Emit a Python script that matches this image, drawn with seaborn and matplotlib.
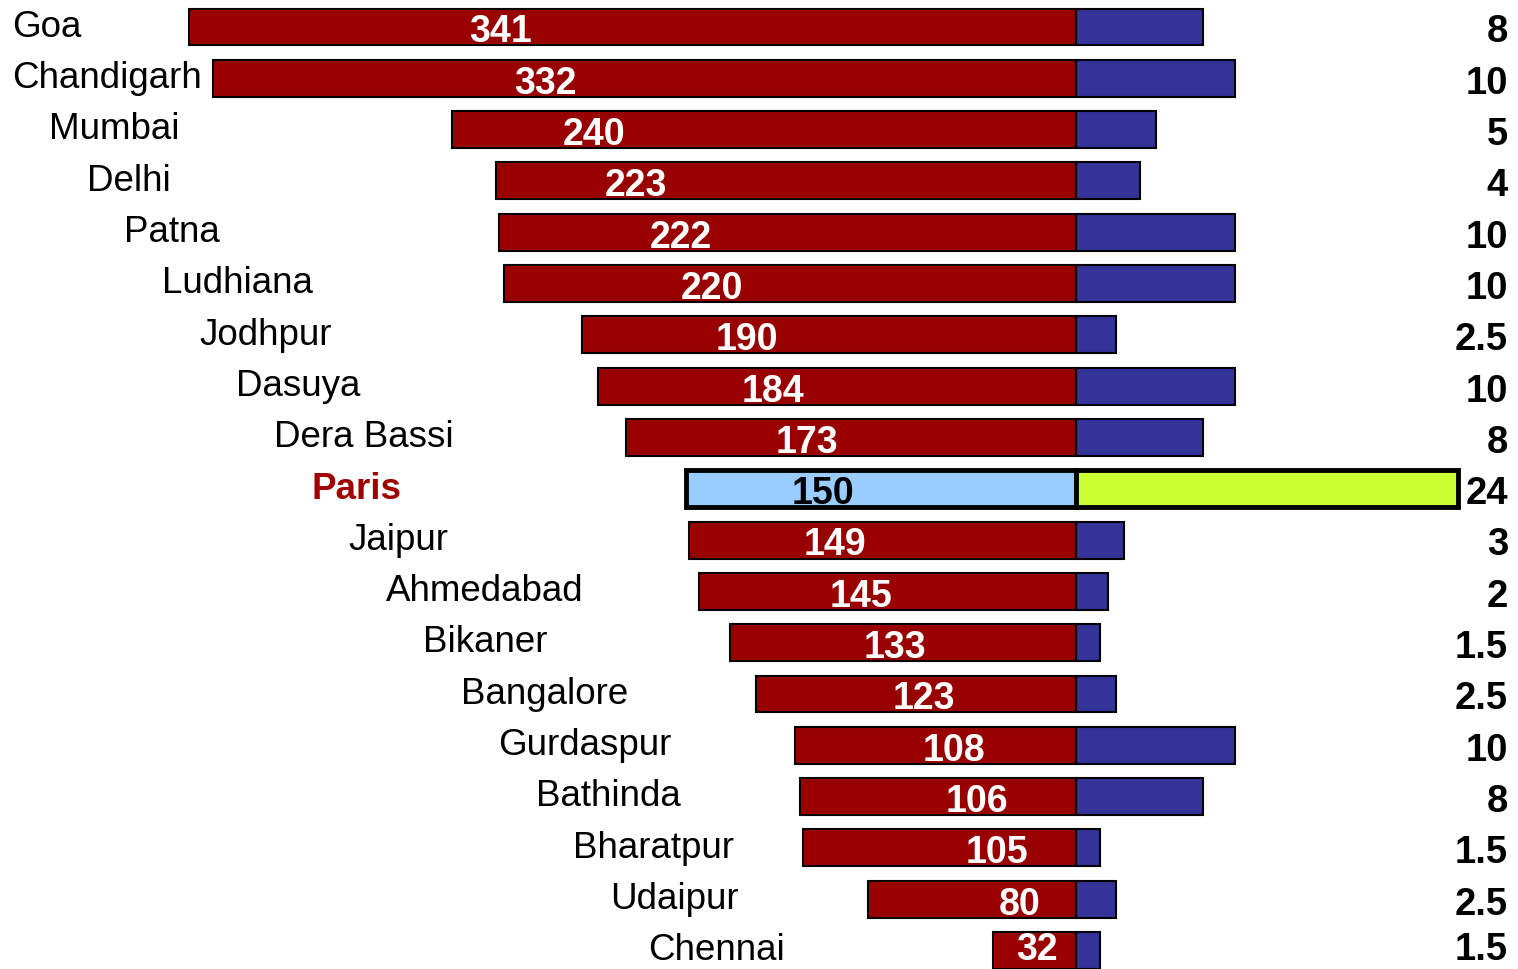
import matplotlib
matplotlib.use('Agg')
import matplotlib.pyplot as plt
import matplotlib.transforms as mtransforms
import seaborn as sns
import pandas as pd

# ---- data ----
cities = ['Goa', 'Chandigarh', 'Mumbai', 'Delhi', 'Patna', 'Ludhiana', 'Jodhpur',
          'Dasuya', 'Dera Bassi', 'Paris', 'Jaipur', 'Ahmedabad', 'Bikaner',
          'Bangalore', 'Gurdaspur', 'Bathinda', 'Bharatpur', 'Udaipur', 'Chennai']
consumption = [341, 332, 240, 223, 222, 220, 190, 184, 173, 150, 149, 145, 133,
               123, 108, 106, 105, 80, 32]
supply = [8, 10, 5, 4, 10, 10, 2.5, 10, 8, 24, 3, 2, 1.5, 2.5, 10, 8, 1.5, 2.5, 1.5]
supply_labels = ['8', '10', '5', '4', '10', '10', '2.5', '10', '8', '24', '3', '2',
                 '1.5', '2.5', '10', '8', '1.5', '2.5', '1.5']
highlight = 'Paris'

# placement of the value labels inside the red bars (consumption units from the centre line)
value_label_pos = [221.5, 204.2, 185.4, 169.2, 151.9, 140.0, 126.5, 116.5, 103.5,
                   97.3, 92.7, 82.7, 69.6, 58.5, 46.9, 38.1, 30.4, 21.5, 15.0]

sns.set_style('white')
plt.rcParams['font.family'] = ['Liberation Sans', 'DejaVu Sans']

W, H = 1518, 969
fig = plt.figure(figsize=(W / 100, H / 100), dpi=100)
split = 1076 / W
axL = fig.add_axes([0, 0, split, 1])
axR = fig.add_axes([split, 0, 1 - split, 1])

df = pd.DataFrame({'city': cities, 'consumption': consumption, 'supply': supply})
left_colors = {c: ('#99CCFF' if c == highlight else '#990000') for c in cities}
right_colors = {c: ('#CCFF33' if c == highlight else '#333399') for c in cities}

sns.barplot(data=df, x='consumption', y='city', hue='city', palette=left_colors,
            order=cities, hue_order=cities, orient='h', width=0.72, dodge=False,
            saturation=1, edgecolor='black', linewidth=1.5, legend=False,
            errorbar=None, ax=axL)
sns.barplot(data=df, x='supply', y='city', hue='city', palette=right_colors,
            order=cities, hue_order=cities, orient='h', width=0.72, dodge=False,
            saturation=1, edgecolor='black', linewidth=1.5, legend=False,
            errorbar=None, ax=axR)

ylim = (18.36, -0.526)
axL.set_xlim(1076 / 2.6, 0)
axR.set_xlim(0, 442 / 15.9)
for ax in (axL, axR):
    ax.set_ylim(*ylim)
    ax.axis('off')
    for p in ax.patches:
        idx = int(round(p.get_y() + p.get_height() / 2))
        p.set_clip_on(False)
        if 0 <= idx < len(cities) and cities[idx] == highlight:
            p.set_linewidth(3.5)
            p.set_zorder(5)

tr_city = mtransforms.blended_transform_factory(fig.transFigure, axL.transData)
for i, c in enumerate(cities):
    is_h = c == highlight
    step = max(i - 1, 0)
    axL.text((12 + 37.4 * step) / W, i + 0.19, c, transform=tr_city, ha='left',
             va='baseline', fontsize=26.5, fontweight='bold' if is_h else 'normal',
             color='#A00000' if is_h else 'black', clip_on=False)
    dy = 0.18 if i == len(cities) - 1 else 0.30
    axL.text(value_label_pos[i], i + dy, str(consumption[i]), ha='center',
             va='baseline', fontsize=27, fontweight='bold',
             color='black' if is_h else 'white', zorder=10, clip_on=False)
    axL.text(1508 / W, i + dy, supply_labels[i], transform=tr_city, ha='right',
             va='baseline', fontsize=27.5, fontweight='bold', color='black',
             clip_on=False)

fig.savefig('out.png', dpi=100)
